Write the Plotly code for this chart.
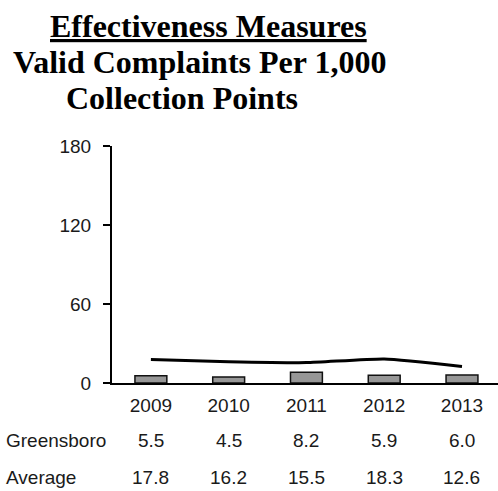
import plotly.graph_objects as go

years = ["2009", "2010", "2011", "2012", "2013"]
greensboro = [5.5, 4.5, 8.2, 5.9, 6.0]
average = [17.8, 16.2, 15.5, 18.3, 12.6]
y_ticks = [0, 60, 120, 180]
row_labels = ["Greensboro", "Average"]
title_lines = ["<b><u>Effectiveness Measures</u></b>", "<b>Valid Complaints Per 1,000</b>", "<b>Collection Points</b>"]

W, H = 498, 491
L, R, T, B = 112, 0, 146, 108
plot_h = H - T - B
plot_w = W - L - R

def py(p):
    return (H - B - p) / plot_h

def px(p):
    return (p - L) / plot_w

num_font = dict(family="Liberation Sans, Arial, sans-serif", size=19, color="#1a1a1a")

fig = go.Figure()
fig.add_trace(go.Bar(x=years, y=greensboro, width=0.41,
                     marker=dict(color="#979797", line=dict(color="#111111", width=1.5)),
                     showlegend=False))
fig.add_trace(go.Scatter(x=years, y=average, mode="lines",
                         line=dict(color="#000000", width=3, shape="spline", smoothing=0.5),
                         showlegend=False))

annotations = []
title_pos = [(208, 26), (199, 62), (182, 98)]
for text, (cx, cy) in zip(title_lines, title_pos):
    annotations.append(dict(text=text, xref="paper", yref="paper", x=px(cx), y=py(cy),
                            xanchor="center", yanchor="middle", showarrow=False,
                            font=dict(family="Liberation Serif", size=32, color="#000000")))

row_y = [440, 477]
for label, vals, ry in zip(row_labels, [greensboro, average], row_y):
    annotations.append(dict(text=label, xref="paper", yref="paper", x=px(4), y=py(ry),
                            xanchor="left", yanchor="middle", showarrow=False, font=num_font))
    for i, v in enumerate(vals):
        annotations.append(dict(text=f"{v:.1f}", xref="x", yref="paper", x=i, y=py(ry),
                                xanchor="center", yanchor="middle", showarrow=False, font=num_font))

fig.update_layout(
    width=W, height=H,
    margin=dict(l=L, r=R, t=T, b=B, pad=0),
    paper_bgcolor="white", plot_bgcolor="white",
    bargap=0.59,
    annotations=annotations,
    xaxis=dict(type="category", range=[-0.5, 4.463], showgrid=False, zeroline=False,
               showline=True, linecolor="#000000", linewidth=2, ticks="",
               tickfont=num_font, ticklabelstandoff=4),
    yaxis=dict(range=[0, 180], tickvals=y_ticks, showgrid=False, zeroline=False,
               showline=True, linecolor="#000000", linewidth=2,
               ticks="outside", ticklen=7, tickwidth=2, tickcolor="#000000",
               tickfont=num_font, ticklabelstandoff=8),
)

fig.write_html("out.html")
